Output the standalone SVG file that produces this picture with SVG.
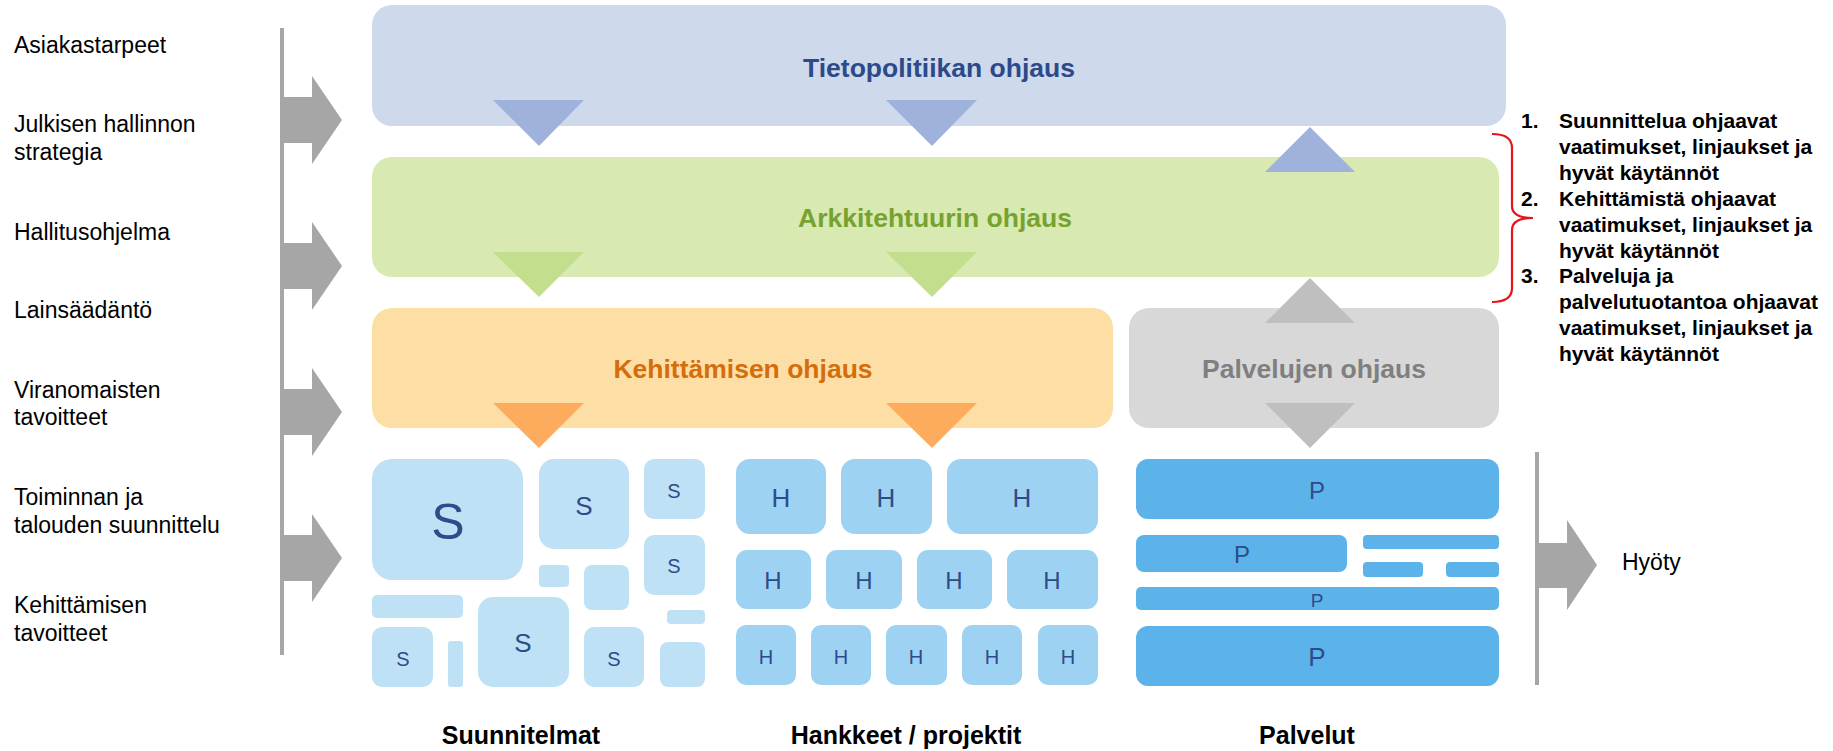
<svg xmlns="http://www.w3.org/2000/svg" width="1833" height="751" viewBox="0 0 1833 751">
<style>
text{font-family:"Liberation Sans",Arial,sans-serif}
.lt{font-size:23px;fill:#000}
.title{font-size:26.5px;font-weight:bold;text-anchor:middle}
.lst{font-size:21px;font-weight:bold;fill:#000}
.bot{font-size:25px;font-weight:bold;fill:#000;text-anchor:middle}
.ltr{fill:#2E4B8A;text-anchor:middle}
.s{fill:#BEE1F6}
.h{fill:#9DD2F2}
.p{fill:#5BB3EA}
.gr{fill:#A6A6A6}
</style>
<rect width="1833" height="751" fill="#fff"/>

<g id="inputs">
<text class="lt" x="14" y="53">Asiakastarpeet</text>
<text class="lt" x="14" y="132">Julkisen hallinnon</text>
<text class="lt" x="14" y="160">strategia</text>
<text class="lt" x="14" y="240">Hallitusohjelma</text>
<text class="lt" x="14" y="318">Lainsäädäntö</text>
<text class="lt" x="14" y="398">Viranomaisten</text>
<text class="lt" x="14" y="425">tavoitteet</text>
<text class="lt" x="14" y="505">Toiminnan ja</text>
<text class="lt" x="14" y="533">talouden suunnittelu</text>
<text class="lt" x="14" y="613">Kehittämisen</text>
<text class="lt" x="14" y="641">tavoitteet</text>
</g>

<g id="connectors">
<rect class="gr" x="280" y="28" width="4" height="627"/>
<polygon class="gr" points="282,97 312,97 312,76 342,120 312,164 312,143 282,143"/>
<polygon class="gr" points="282,243 312,243 312,222 342,266 312,310 312,289 282,289"/>
<polygon class="gr" points="282,389 312,389 312,368 342,412 312,456 312,435 282,435"/>
<polygon class="gr" points="282,535 312,535 312,514 342,558 312,602 312,581 282,581"/>
<rect class="gr" x="1535" y="452" width="4" height="233"/>
<polygon class="gr" points="1537,543 1567,543 1567,520 1597,565 1567,610 1567,588 1537,588"/>
<path d="M1492,134 Q1512,134 1512,148 L1512,206 Q1512,218 1533,218 Q1512,218 1512,230 L1512,288 Q1512,302 1492,302" fill="none" stroke="#E8141B" stroke-width="2.2"/>
</g>

<g id="tietopolitiikka">
<rect x="372" y="5" width="1134" height="121" rx="20" fill="#CED9EC"/>
<text class="title" x="939" y="77" fill="#2C4A8A">Tietopolitiikan ohjaus</text>
<polygon points="493,100 584,100 539,146" fill="#9FB2DB"/>
<polygon points="886,100 977,100 932,146" fill="#9FB2DB"/>
</g>

<g id="arkkitehtuuri">
<rect x="372" y="157" width="1127" height="120" rx="20" fill="#D8E9B1"/>
<text class="title" x="935" y="227" fill="#77A22F">Arkkitehtuurin ohjaus</text>
<polygon points="1265,172 1355,172 1310,127" fill="#9FB2DB"/>
<polygon points="493,252 584,252 539,297" fill="#C3DF8D"/>
<polygon points="886,252 977,252 932,297" fill="#C3DF8D"/>
</g>

<g id="kehittaminen">
<rect x="372" y="308" width="741" height="120" rx="20" fill="#FDDFA5"/>
<text class="title" x="743" y="378" fill="#D46D0C">Kehittämisen ohjaus</text>
<polygon points="493,403 584,403 539,448" fill="#FDAC5D"/>
<polygon points="886,403 977,403 932,448" fill="#FDAC5D"/>
</g>

<g id="palvelujen-ohjaus">
<rect x="1129" y="308" width="370" height="120" rx="20" fill="#D8D8D8"/>
<polygon points="1265,323 1355,323 1310,278" fill="#BFBFBF"/>
<text class="title" x="1314" y="378" fill="#7F7F7F">Palvelujen ohjaus</text>
<polygon points="1265,403 1355,403 1310,448" fill="#BFBFBF"/>
</g>

<g id="suunnitelmat">
<rect class="s" x="372" y="459" width="151" height="121" rx="20"/>
<text class="ltr" x="448" y="539" font-size="50">S</text>
<rect class="s" x="539" y="459" width="90" height="90" rx="15"/>
<text class="ltr" x="584" y="515" font-size="26">S</text>
<rect class="s" x="644" y="459" width="61" height="60" rx="10"/>
<text class="ltr" x="674" y="498" font-size="20">S</text>
<rect class="s" x="644" y="535" width="61" height="60" rx="10"/>
<text class="ltr" x="674" y="573" font-size="20">S</text>
<rect class="s" x="539" y="565" width="30" height="22" rx="4"/>
<rect class="s" x="584" y="565" width="45" height="45" rx="8"/>
<rect class="s" x="372" y="595" width="91" height="23" rx="5"/>
<rect class="s" x="667" y="610" width="38" height="14" rx="4"/>
<rect class="s" x="372" y="627" width="61" height="60" rx="10"/>
<text class="ltr" x="403" y="666" font-size="20">S</text>
<rect class="s" x="448" y="641" width="15" height="46" rx="3"/>
<rect class="s" x="478" y="597" width="91" height="90" rx="15"/>
<text class="ltr" x="523" y="652" font-size="26">S</text>
<rect class="s" x="584" y="627" width="60" height="60" rx="10"/>
<text class="ltr" x="614" y="666" font-size="20">S</text>
<rect class="s" x="660" y="642" width="45" height="45" rx="8"/>
<text class="bot" x="521" y="744">Suunnitelmat</text>
</g>

<g id="hankkeet">
<rect class="h" x="736" y="459" width="90" height="75" rx="14"/>
<text class="ltr" x="781" y="507" font-size="26">H</text>
<rect class="h" x="841" y="459" width="91" height="75" rx="14"/>
<text class="ltr" x="886" y="507" font-size="26">H</text>
<rect class="h" x="947" y="459" width="151" height="75" rx="14"/>
<text class="ltr" x="1022" y="507" font-size="26">H</text>
<rect class="h" x="736" y="550" width="75" height="59" rx="11"/>
<text class="ltr" x="773" y="589" font-size="24">H</text>
<rect class="h" x="826" y="550" width="76" height="59" rx="11"/>
<text class="ltr" x="864" y="589" font-size="24">H</text>
<rect class="h" x="917" y="550" width="75" height="59" rx="11"/>
<text class="ltr" x="954" y="589" font-size="24">H</text>
<rect class="h" x="1007" y="550" width="91" height="59" rx="11"/>
<text class="ltr" x="1052" y="589" font-size="24">H</text>
<rect class="h" x="736" y="625" width="60" height="60" rx="10"/>
<text class="ltr" x="766" y="664" font-size="20">H</text>
<rect class="h" x="811" y="625" width="60" height="60" rx="10"/>
<text class="ltr" x="841" y="664" font-size="20">H</text>
<rect class="h" x="886" y="625" width="61" height="60" rx="10"/>
<text class="ltr" x="916" y="664" font-size="20">H</text>
<rect class="h" x="962" y="625" width="60" height="60" rx="10"/>
<text class="ltr" x="992" y="664" font-size="20">H</text>
<rect class="h" x="1038" y="625" width="60" height="60" rx="10"/>
<text class="ltr" x="1068" y="664" font-size="20">H</text>
<text class="bot" x="906" y="744">Hankkeet / projektit</text>
</g>

<g id="palvelut">
<rect class="p" x="1136" y="459" width="363" height="60" rx="12"/>
<text class="ltr" x="1317" y="499" font-size="24">P</text>
<rect class="p" x="1136" y="535" width="211" height="37" rx="8"/>
<text class="ltr" x="1242" y="563" font-size="24">P</text>
<rect class="p" x="1363" y="535" width="136" height="14" rx="4"/>
<rect class="p" x="1363" y="562" width="60" height="15" rx="4"/>
<rect class="p" x="1446" y="562" width="53" height="15" rx="4"/>
<rect class="p" x="1136" y="587" width="363" height="23" rx="5"/>
<text class="ltr" x="1317" y="607" font-size="19">P</text>
<rect class="p" x="1136" y="626" width="363" height="60" rx="12"/>
<text class="ltr" x="1317" y="666" font-size="26">P</text>
<text class="bot" x="1307" y="744">Palvelut</text>
</g>

<g id="hyoty">
<text class="lt" x="1622" y="570">Hyöty</text>
</g>

<g id="ohjaustasot">
<text class="lst" x="1521" y="128">1.</text>
<text class="lst" x="1559" y="128">Suunnittelua ohjaavat</text>
<text class="lst" x="1559" y="154">vaatimukset, linjaukset ja</text>
<text class="lst" x="1559" y="180">hyvät käytännöt</text>
<text class="lst" x="1521" y="206">2.</text>
<text class="lst" x="1559" y="206">Kehittämistä ohjaavat</text>
<text class="lst" x="1559" y="232">vaatimukset, linjaukset ja</text>
<text class="lst" x="1559" y="258">hyvät käytännöt</text>
<text class="lst" x="1521" y="283">3.</text>
<text class="lst" x="1559" y="283">Palveluja ja</text>
<text class="lst" x="1559" y="309">palvelutuotantoa ohjaavat</text>
<text class="lst" x="1559" y="335">vaatimukset, linjaukset ja</text>
<text class="lst" x="1559" y="361">hyvät käytännöt</text>
</g>
</svg>
